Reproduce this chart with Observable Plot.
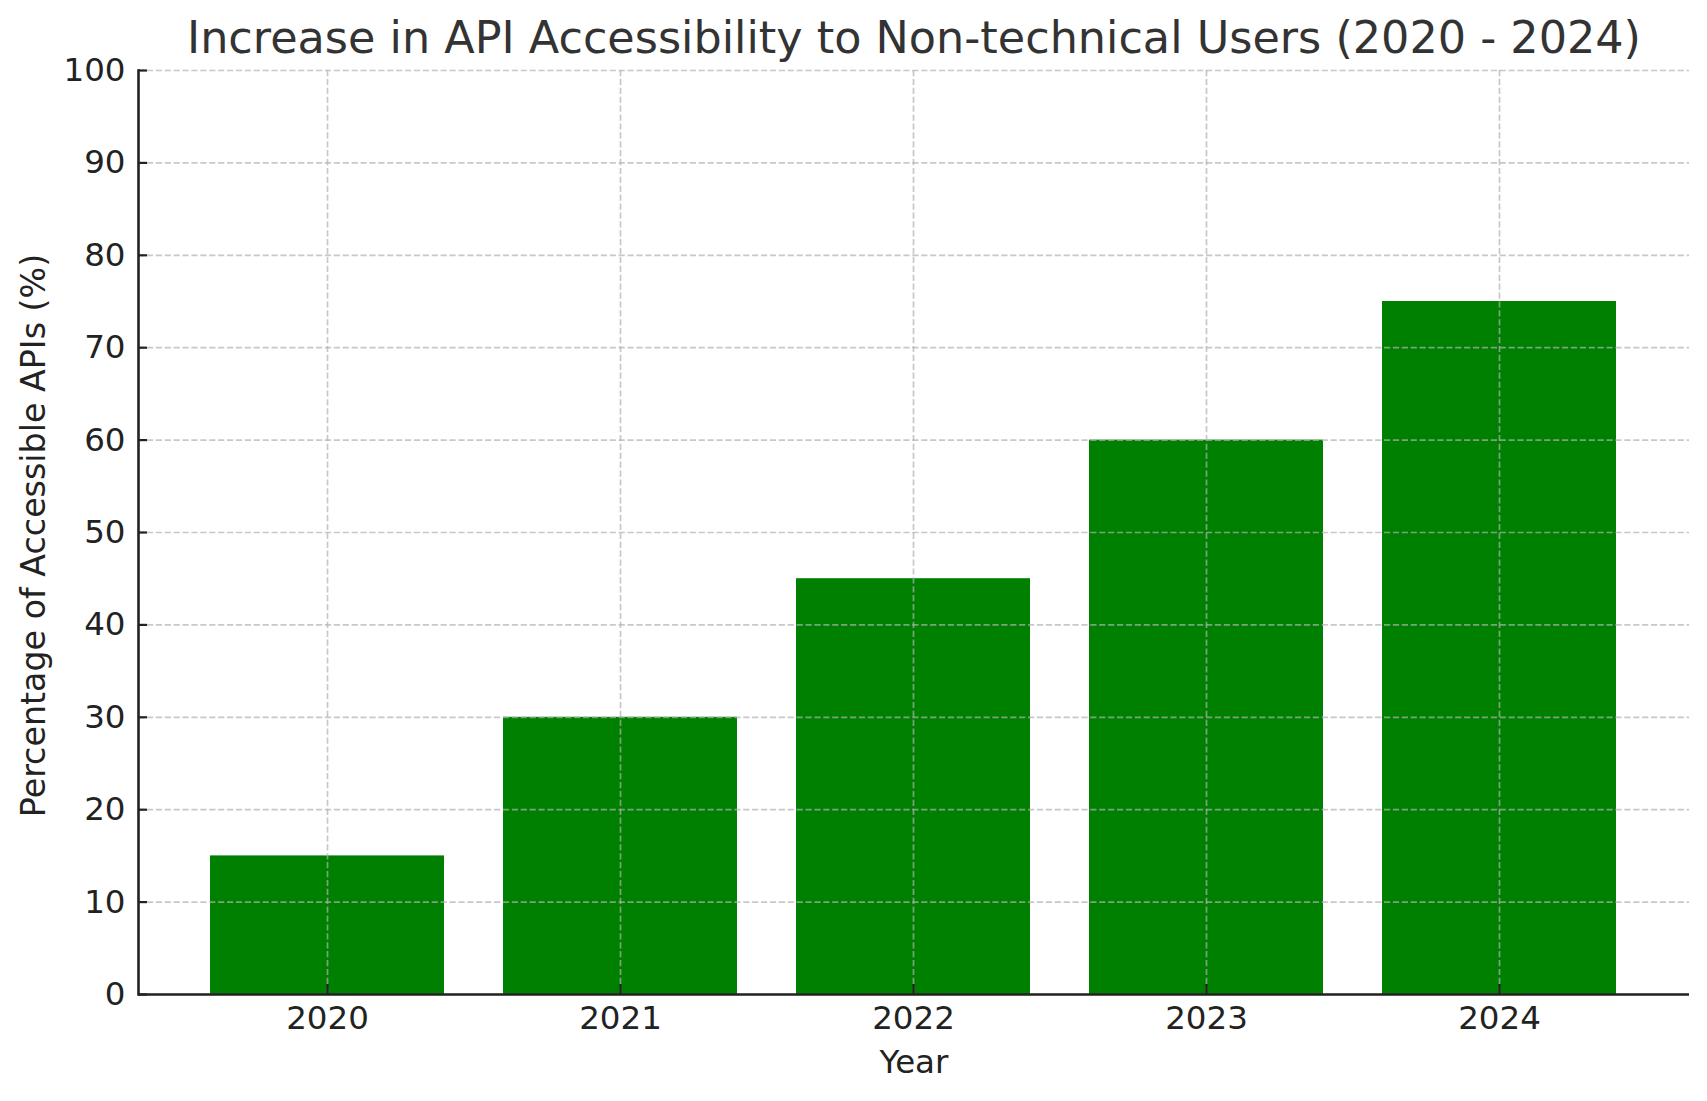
<!DOCTYPE html>
<html>
<head>
<meta charset="utf-8">
<script src="https://cdn.jsdelivr.net/npm/d3@7"></script>
<script src="https://cdn.jsdelivr.net/npm/@observablehq/plot@0.6"></script>
<style>
  html, body { margin: 0; padding: 0; background: #fff; overflow: hidden; }
  #chart svg { display: block; }
</style>
</head>
<body>
<div id="chart"></div>
<script>
const years = ["2020", "2021", "2022", "2023", "2024"];
const percentages = [15, 30, 45, 60, 75];
const yTicks = [0, 10, 20, 30, 40, 50, 60, 70, 80, 90, 100];
const titleText = "Increase in API Accessibility to Non-technical Users (2020 - 2024)";
const xLabel = "Year";
const yLabel = "Percentage of Accessible APIs (%)";

const data = years.map((year, i) => ({year, value: percentages[i]}));

const FS = 32.5;
const gridStyle = {stroke: "#b0b0b0", strokeOpacity: 0.7, strokeWidth: 1.7, strokeDasharray: "6.2,2.7"};

const chart = Plot.plot({
  width: 1707,
  height: 1101,
  marginLeft: 138,
  marginRight: 18,
  marginTop: 70,
  marginBottom: 107,
  style: {fontFamily: "DejaVu Sans", fontSize: FS + "px", color: "#222", background: "#fff", overflow: "visible"},
  x: {type: "band", domain: years, paddingInner: 0.2, paddingOuter: 0.24, align: 0.5},
  y: {domain: [0, 100]},
  marks: [
    Plot.barY(data, {x: "year", y: "value", fill: "#008000"}),
    Plot.gridY(yTicks, gridStyle),
    Plot.gridX(years, gridStyle),
    Plot.ruleY([0], {stroke: "#222", strokeWidth: 2.6}),
    Plot.frame({anchor: "left", stroke: "#222", strokeWidth: 2.6}),
    Plot.axisY(yTicks, {tickSize: -9, tickPadding: 22, strokeWidth: 2.2, fontSize: FS, label: null, tickFormat: d => String(d)}),
    Plot.axisX(years, {tickSize: -10, tickPadding: 21, strokeWidth: 2.2, fontSize: FS, label: null}),
    Plot.text([yLabel], {frameAnchor: "left", rotate: -90, dx: -104, dy: 3, textAnchor: "middle", lineAnchor: "middle", fontSize: 33.3, fill: "#222"}),
    Plot.text([xLabel], {frameAnchor: "bottom", dy: 55, textAnchor: "middle", lineAnchor: "top", fontSize: FS, fill: "#222"}),
    Plot.text([titleText], {frameAnchor: "top", dy: -49, textAnchor: "middle", lineAnchor: "top", fontSize: 44.5, fill: "#333"})
  ]
});
document.getElementById("chart").appendChild(chart);
</script>
</body>
</html>
